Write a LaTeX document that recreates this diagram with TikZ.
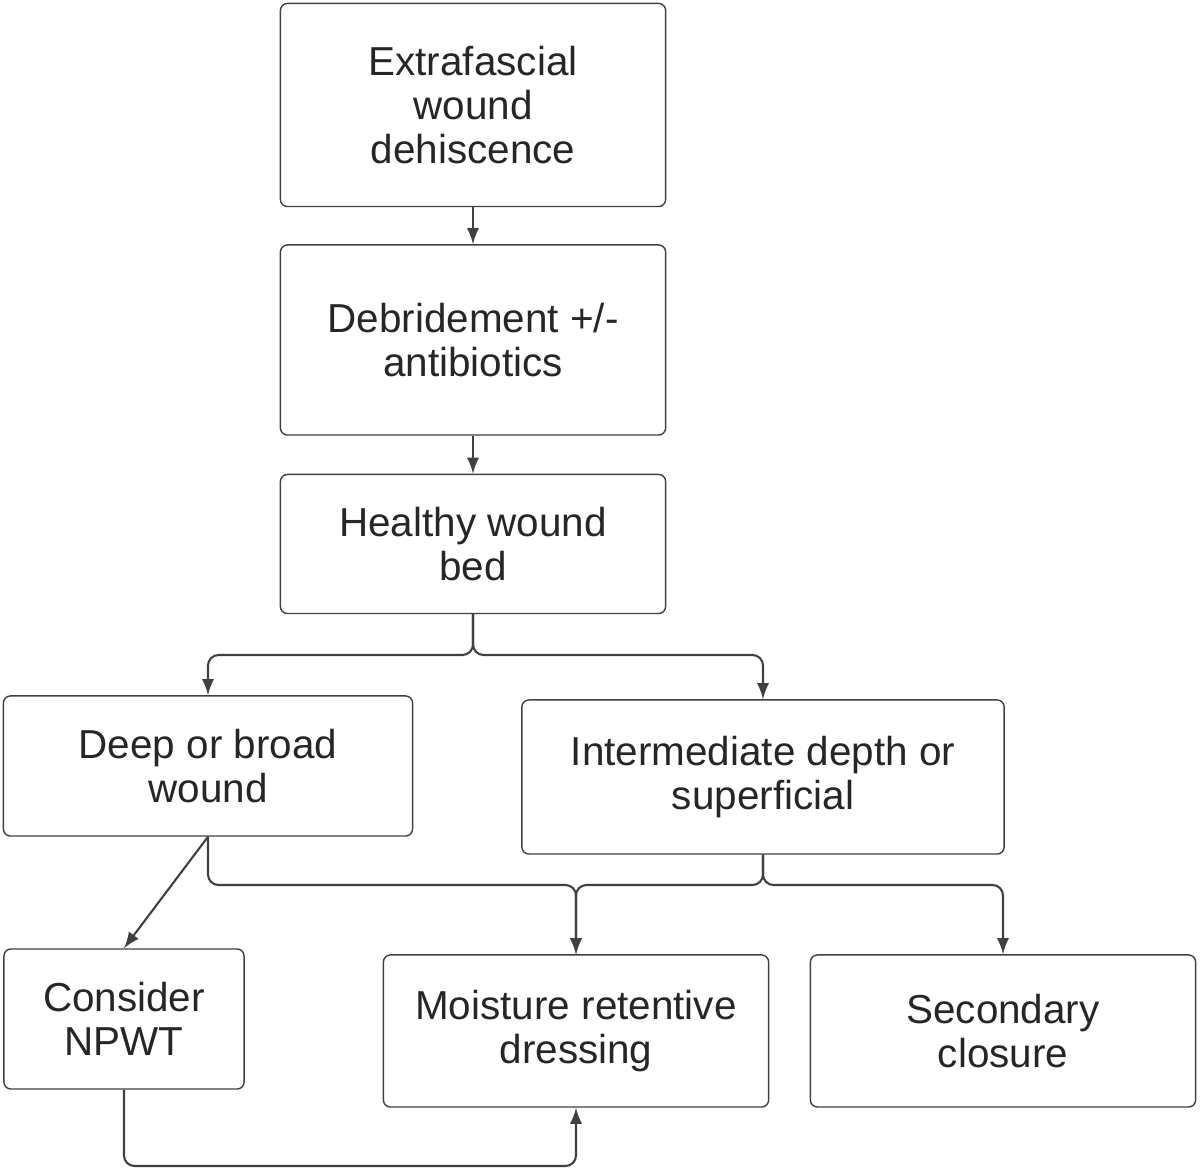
\documentclass[tikz,border=0pt]{standalone}
\usepackage{fontspec}
\setmainfont{Liberation Sans}
\begin{document}
\begin{tikzpicture}[x=0.01cm,y=-0.01cm,
    box/.style={draw=black!75, rounded corners=2pt, align=center, inner sep=0pt,
      font=\fontsize{11.5}{12.6}\selectfont, text=black!85},
    link/.style={draw=black!75, semithick, rounded corners=3pt, -latex}]

    %% Frame
    \useasboundingbox (0,0) rectangle (1200,1171);

    % Boxes
    \node[box, minimum width=3.85cm, minimum height=2.03cm] (dehisc) at (473,105) {Extrafascial\\wound\\dehiscence};
    \node[box, minimum width=3.85cm, minimum height=1.90cm] (debrid) at (473,340) {Debridement +/-\\antibiotics};
    \node[box, minimum width=3.85cm, minimum height=1.39cm] (healthy) at (473,544) {Healthy wound\\bed};
    \node[box, minimum width=4.09cm, minimum height=1.40cm] (deep) at (208,766) {Deep or broad\\wound};
    \node[box, minimum width=4.82cm, minimum height=1.54cm] (inter) at (763,777) {Intermediate depth or\\superficial};
    \node[box, minimum width=2.40cm, minimum height=1.40cm] (npwt) at (124,1019) {Consider\\NPWT};
    \node[box, minimum width=3.85cm, minimum height=1.52cm] (moist) at (576,1031) {Moisture retentive\\dressing};
    \node[box, minimum width=3.85cm, minimum height=1.52cm] (second) at (1003,1031) {Secondary\\closure};

    % Connectors
    \draw[link] (dehisc) -- (debrid);
    \draw[link] (debrid) -- (healthy);
    \draw[link] (healthy.south) |- (340,655) -| (deep.north);
    \draw[link] (healthy.south) |- (620,655) -| (inter.north);
    \draw[link] (deep.south) -- (npwt.north);
    \draw[link] (deep.south) |- (400,885) -| (moist.north);
    \draw[link] (inter.south) |- (680,885) -| (moist.north);
    \draw[link] (inter.south) |- (900,885) -| (second.north);
    \draw[link] (npwt.south) |- (400,1166) -| (moist.south);

\end{tikzpicture}
\end{document}
